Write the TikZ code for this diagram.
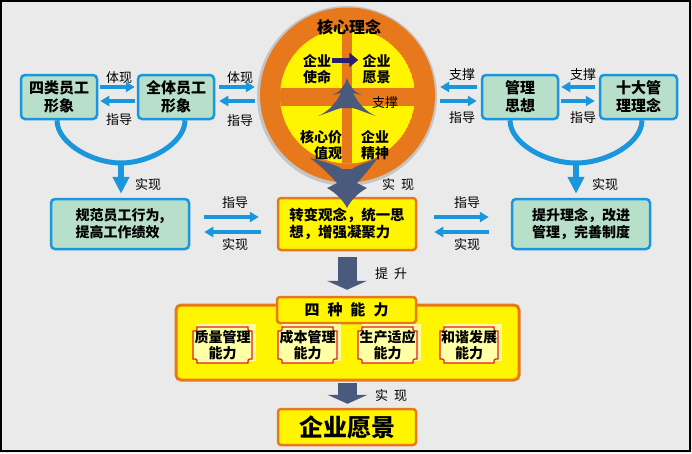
\documentclass[tikz,border=0pt]{standalone}
\usepackage{fontspec}
\setmainfont{Noto Sans CJK SC}
\usetikzlibrary{arrows.meta,calc}
\definecolor{bgc}{HTML}{EAEAEA}
\definecolor{blueA}{HTML}{1A96DC}
\definecolor{greenF}{HTML}{B7DFC9}
\definecolor{orangeC}{HTML}{E8781C}
\definecolor{yellowC}{HTML}{FFF500}
\definecolor{slateC}{HTML}{4A5A7C}
\definecolor{navyC}{HTML}{2A1E6E}
\definecolor{ringC}{HTML}{C4C4C4}
\definecolor{lyel}{HTML}{FFFFA8}
\definecolor{paley}{HTML}{FFF9A0}
\definecolor{redB}{HTML}{E02020}
\newcommand\abil[4]{%
  \fill[paley] (#2+4,324) rectangle (#3+4,361);
  \draw[redB, line width=1.2pt, fill=lyel] (#2+4,327) -- (#3-4,327) .. controls (#3-4,331) .. (#3,331) -- (#3,359) .. controls (#3-4,359) .. (#3-4,363) -- (#2+4,363) .. controls (#2+4,359) .. (#2,359) -- (#2,331) .. controls (#2+4,331) .. (#2+4,327) -- cycle;
  \node[abtext] (#1) at ({(#2+#3)/2},345) {#4};}
\begin{document}
\begin{tikzpicture}[x=1pt,y=-1pt,
  lbl/.style={font=\fontsize{13}{15}\selectfont, inner sep=0},
  gbox/.style={draw=blueA, line width=2.5pt, fill=greenF, rounded corners=4pt, inner sep=0, align=center, font=\bfseries\fontsize{15}{18}\selectfont},
  ybox/.style={draw=orangeC, line width=2.5pt, fill=yellowC, rounded corners=3pt, inner sep=0, align=center},
  ctext/.style={font=\bfseries\fontsize{14}{16}\selectfont, inner sep=0, align=center},
  abtext/.style={font=\bfseries\fontsize{14}{16}\selectfont, inner sep=0, align=center},
  barr/.style={draw=blueA, line width=3.5pt, -{Triangle[length=9pt,width=10pt]}},
  uline/.style={draw=blueA, line width=5pt},
  uarr/.style={draw=blueA, line width=6pt, -{Triangle[length=17pt,width=16pt]}},
  sarr/.style={draw=slateC, line width=19pt, -{Triangle[length=9pt,width=40pt]}}]
\useasboundingbox (0,0) rectangle (692,453);
\fill[bgc] (0,0) rectangle (692,453);
\draw[black, line width=2pt] (1,1) rectangle (690,451);

% core circle
\node[circle, fill=ringC, minimum size=180pt, inner sep=0] (core) at (347,96) {};
\fill[orangeC] (347.5,95) circle[radius=87.5pt];
\begin{scope}
\clip (347.5,96) circle[radius=67.5pt];
\fill[yellowC] (347.5,96) circle[radius=67.5pt];
\fill[orangeC] (342,0) rectangle (352,200);
\fill[orangeC] (270,88) rectangle (430,106);
\end{scope}

% centre box
\node[ybox, minimum width=138pt, minimum height=52pt, align=left, font=\bfseries\fontsize{14.4}{17}\selectfont] (G) at (347,224) {转变观念，统一思\\想，增强凝聚力};

% arrows inside the circle
\fill[slateC] (347,78) .. controls (350,88) and (356,93) .. (362,95)
  -- (353,93) .. controls (358,103) and (366,112) .. (376,116)
  .. controls (366,113) and (358,109) .. (352,108) -- (342,108)
  .. controls (336,109) and (328,113) .. (318,116)
  .. controls (328,112) and (336,103) .. (341,93) -- (332,95)
  .. controls (338,93) and (344,88) .. (347,78) -- cycle;
\fill[slateC] (310,158) .. controls (325,162) and (337,165) .. (342,169) -- (352,169)
  .. controls (357,165) and (369,162) .. (378,158)
  .. controls (370,168) and (362,178) .. (357,183) -- (367,188)
  .. controls (358,193) and (351,200) .. (347,208)
  .. controls (343,200) and (336,193) .. (327,188) -- (337,183)
  .. controls (332,178) and (324,168) .. (310,158) -- cycle;

\node[font=\bfseries\fontsize{16}{18}\selectfont, inner sep=0] (hx) at (349,27) {核心理念};
\node[ctext] (m1) at (317,69) {企业\\使命};
\node[ctext] (m2) at (376.5,69) {企业\\愿景};
\node[ctext, align=right] (m3) at (321,145) {核心价\\值观};
\node[ctext] (m4) at (375,145) {企业\\精神};
\draw[navyC, line width=5pt, -{Triangle[length=9pt,width=14pt]}] ([shift={(1,-9)}]m1.east) -- ([shift={(-4,-9)}]m2.west);
\node[lbl] (s0) at (385,103) {支撑};
\node[lbl] (r0) at (398,185) {实\hspace{6pt}现};

% green boxes
\node[gbox, minimum width=76pt, minimum height=44pt] (A) at (59,97) {四类员工\\形象};
\node[gbox, minimum width=76pt, minimum height=44pt] (B) at (176,97) {全体员工\\形象};
\node[gbox, minimum width=76pt, minimum height=44pt] (D) at (520,97) {管理\\思想};
\node[gbox, minimum width=77pt, minimum height=44pt] (E) at (638.5,97) {十大管\\理理念};
\node[gbox, minimum width=138pt, minimum height=50pt, align=left, font=\bfseries\fontsize{14}{17}\selectfont] (C) at (120,224) {规范员工行为,\\提高工作绩效};
\node[gbox, minimum width=138pt, minimum height=50pt, align=left, font=\bfseries\fontsize{14}{17}\selectfont] (F) at (581,224) {提升理念，改进\\管理，完善制度};

% horizontal arrows, top row
\draw[barr] ([shift={(2,-10)}]A.east) -- ([shift={(-2,-10)}]B.west);
\draw[barr] ([shift={(-2,4)}]B.west) -- ([shift={(2,4)}]A.east);
\draw[barr] ([shift={(4,-10)}]B.east) -- ([shift={(-2,-9)}]core.west);
\draw[barr] ([shift={(-2,5)}]core.west) -- ([shift={(4,4)}]B.east);
\draw[barr] ([shift={(-4,-10)}]D.west) -- ([shift={(3,-9)}]core.east);
\draw[barr] ([shift={(3,5)}]core.east) -- ([shift={(-4,4)}]D.west);
\draw[barr] ([shift={(-4,-10)}]E.west) -- ([shift={(2,-10)}]D.east);
\draw[barr] ([shift={(2,4)}]D.east) -- ([shift={(-4,4)}]E.west);
\node[lbl] (t1) at (119,78) {体现};
\node[lbl] (t2) at (119,120) {指导};
\node[lbl] (t3) at (240,78) {体现};
\node[lbl] (t4) at (240,121) {指导};
\node[lbl] (t5) at (462,75) {支撑};
\node[lbl] (t6) at (462,118) {指导};
\node[lbl] (t7) at (583,75) {支撑};
\node[lbl] (t8) at (583,118) {指导};

% horizontal arrows, middle row
\draw[barr] ([shift={(14,-7)}]C.east) -- ([shift={(-18,-7)}]G.west);
\draw[barr] ([shift={(-16,8)}]G.west) -- ([shift={(14,8)}]C.east);
\draw[barr] ([shift={(17,-7)}]G.east) -- ([shift={(-22,-7)}]F.west);
\draw[barr] ([shift={(-22,8)}]F.west) -- ([shift={(17,8)}]G.east);
\node[lbl] (t9) at (235,203) {指导};
\node[lbl] (t10) at (235,245) {实现};
\node[lbl] (t11) at (467,203) {指导};
\node[lbl] (t12) at (467,245) {实现};

% U curves
\coordinate (uL) at (121,163);
\coordinate (uR) at (576,163);
\draw[uline] ([xshift=-2pt]A.south) .. controls (57,143) and (92,163) .. (uL) .. controls (150,163) and (185,143) .. ([xshift=9pt]B.south);
\draw[uline] ([xshift=-10pt]D.south) .. controls (510,143) and (545,163) .. (uR) .. controls (607,163) and (642,143) .. ([xshift=3.5pt]E.south);
\draw[uarr] (uL) -- ($(uL |- C.north)+(0,-4)$);
\draw[uarr] (uR) -- ($(uR |- F.north)+(0,-4)$);
\node[lbl] (t13) at (148,185) {实现};
\node[lbl] (t14) at (605,185) {实现};

% four abilities
\node[draw=orangeC, line width=3pt, fill=yellowC, rounded corners=5pt, minimum width=343pt, minimum height=75pt, inner sep=0] (H) at (347.5,342.5) {};
\node[ybox, minimum width=139pt, minimum height=26pt, font=\bfseries\fontsize{15}{18}\selectfont] (I) at (346.5,310) {四\hspace{8pt}种\hspace{8pt}能\hspace{8pt}力};
\abil{q1}{193}{252}{质量管理\\能力}
\abil{q2}{278}{337}{成本管理\\能力}
\abil{q3}{358}{417}{生产适应\\能力}
\abil{q4}{440}{498}{和谐发展\\能力}

\node[ybox, minimum width=138pt, minimum height=36pt, font=\bfseries\fontsize{24}{28}\selectfont] (J) at (347,427) {企业愿景};

\draw[sarr] ([shift={(0,6)}]G.south) -- ($(G.south |- I.north)+(0,-6)$);
\draw[sarr] ([shift={(0,1)}]H.south) -- ($(H.south |- J.north)+(0,-4)$);
\node[lbl] (t15) at (391,274) {提\hspace{6pt}升};
\node[lbl] (t16) at (391,396) {实\hspace{6pt}现};
\end{tikzpicture}
\end{document}
